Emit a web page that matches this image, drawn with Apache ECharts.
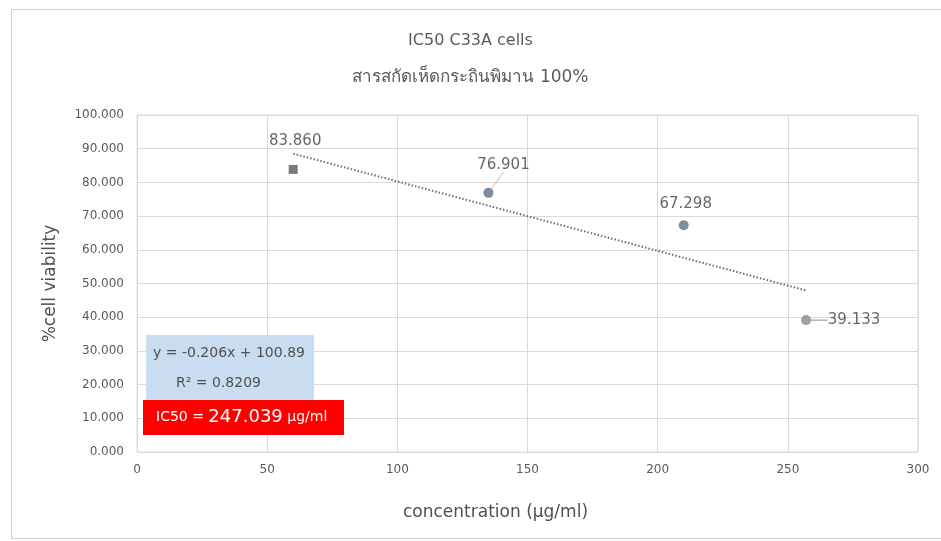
<!DOCTYPE html>
<html><head><meta charset="utf-8">
<script src="https://cdn.jsdelivr.net/npm/echarts@6/dist/echarts.min.js"></script>
<style>html,body{margin:0;padding:0;background:#fff}#c{width:941px;height:541px}</style>
</head><body><div id="c"></div>
<script>
var concentrations = [60, 135, 210, 257];
var viability = [83.860, 76.901, 67.298, 39.133];
var pointLabels = ['83.860', '76.901', '67.298', '39.133'];
var slope = -0.206, intercept = 100.89;
var titleText = 'IC50 C33A cells';
var subtitleText = 'สารสกัดเห็ดกระถินพิมาน 100%';
var equationText = 'y = -0.206x + 100.89';
var r2Text = 'R² = 0.8209';
var ic50Value = '247.039';

var FONT = '"DejaVu Sans", "Noto Sans", sans-serif';
var markerColors = ['#595959', '#5b7086', '#5b7086', '#8a8a8a'];
var labelShift = [[2, -28], [15, -28], [2, -21], [48, 0]];
var showLine = [false, true, false, true];

var pts = concentrations.map(function (x, i) {
  return {
    value: [x, viability[i]],
    symbol: i === 0 ? 'rect' : 'circle',
    symbolSize: i === 0 ? 9 : 10,
    itemStyle: { color: markerColors[i] },
    label: { show: true, formatter: pointLabels[i], position: 'inside' },
    labelLine: { show: showLine[i], lineStyle: { color: i === 1 ? '#f4b183' : '#8a8a8a', width: 1 } }
  };
});
var xMin = Math.min.apply(null, concentrations), xMax = Math.max.apply(null, concentrations);
var trend = [[xMin, slope * xMin + intercept], [xMax, slope * xMax + intercept]];

var chart = echarts.init(document.getElementById('c'), null, { renderer: 'canvas' });
chart.setOption({
  backgroundColor: '#fff',
  animation: false,
  title: [
    { text: titleText, left: 'center', top: 28, textStyle: { fontFamily: FONT, fontSize: 16, fontWeight: 'normal', color: '#5a5a5a' } },
    { text: subtitleText, left: 'center', top: 64, textStyle: { fontFamily: FONT, fontSize: 17, fontWeight: 'normal', color: '#5a5a5a' } }
  ],
  grid: { left: 137, right: 23, top: 115, bottom: 89, show: true, borderColor: '#dcdcdc', borderWidth: 1 },
  xAxis: {
    type: 'value', min: 0, max: 300, interval: 50,
    name: 'concentration (µg/ml)', nameLocation: 'middle', nameGap: 52,
    nameTextStyle: { fontFamily: FONT, fontSize: 17, color: '#505050', padding: [0, 64, 0, 0] },
    axisLine: { show: false }, axisTick: { show: false },
    axisLabel: { fontFamily: FONT, fontSize: 12, color: '#595959', margin: 12 },
    splitLine: { lineStyle: { color: '#d9d9d9' } }
  },
  yAxis: {
    type: 'value', min: 0, max: 100, interval: 10,
    name: '%cell viability', nameLocation: 'middle', nameGap: 78,
    nameTextStyle: { fontFamily: FONT, fontSize: 17, color: '#505050' },
    axisLine: { show: false }, axisTick: { show: false },
    axisLabel: { fontFamily: FONT, fontSize: 12, color: '#595959', margin: 13, formatter: function (v) { return v.toFixed(3); } },
    splitLine: { lineStyle: { color: '#d9d9d9' } }
  },
  series: [
    {
      type: 'line', data: trend, symbol: 'none', silent: true,
      lineStyle: { color: '#5b7086', width: 2, type: [1.5, 2] }, z: 1
    },
    {
      type: 'scatter', data: pts, z: 3,
      label: { fontFamily: FONT, fontSize: 15, color: '#404040' },
      labelLayout: function (p) {
        var s = labelShift[p.dataIndex];
        return { dx: s[0], dy: s[1] };
      }
    }
  ],
  graphic: [
    { type: 'rect', left: 9, top: 7, shape: { width: 940, height: 529 }, style: { fill: 'none', stroke: '#d0d0d0', lineWidth: 1 }, silent: true },
    { type: 'rect', left: 146, top: 335, shape: { width: 168, height: 65 }, style: { fill: '#c9dcf0' }, z: 10 },
    { type: 'text', x: 153, y: 353, style: { text: equationText, font: '14px ' + FONT, fill: '#505050', align: 'left', verticalAlign: 'middle' }, z: 11 },
    { type: 'text', x: 176, y: 383, style: { text: r2Text, font: '14px ' + FONT, fill: '#505050', align: 'left', verticalAlign: 'middle' }, z: 11 },
    { type: 'rect', left: 143, top: 400, shape: { width: 201, height: 35 }, style: { fill: '#ff0000' }, z: 10 },
    { type: 'text', x: 156, y: 417, style: {
        text: '{a|IC50 = }{b|' + ic50Value + '}{a| µg/ml}', align: 'left', verticalAlign: 'middle',
        rich: { a: { fontFamily: FONT, fontSize: 14, fill: '#ffffff' }, b: { fontFamily: FONT, fontSize: 18, fill: '#ffffff' } }
      }, z: 11 }
  ]
});
</script></body></html>
